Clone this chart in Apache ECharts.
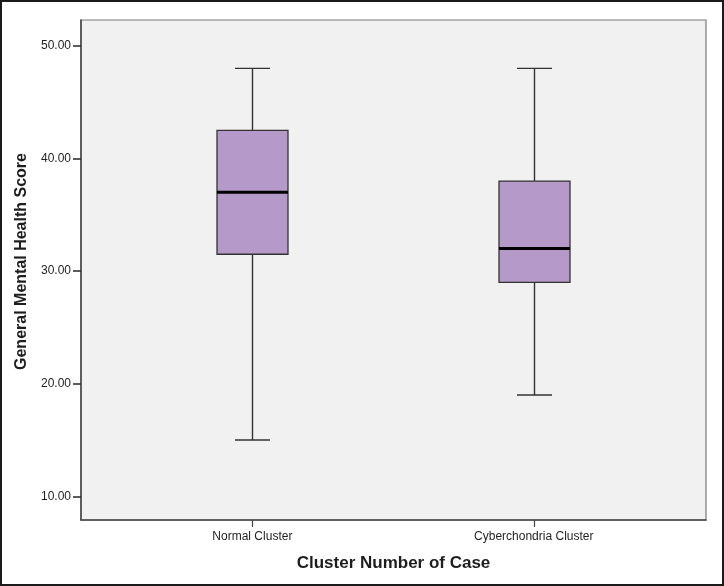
<!DOCTYPE html>
<html>
<head>
<meta charset="utf-8">
<script src="https://cdn.jsdelivr.net/npm/echarts@6/dist/echarts.min.js"></script>
<style>
html,body{margin:0;padding:0;background:#fff;}
#frame{width:724px;height:586px;box-sizing:border-box;border:2px solid #1a1a1a;position:relative;overflow:hidden;}
#chart{position:absolute;left:-2px;top:-2px;width:724px;height:586px;}
</style>
</head>
<body>
<div id="frame"><div id="chart"></div></div>
<script>
const categories = ['Normal Cluster', 'Cyberchondria Cluster'];
const whiskerLow = [15, 19];
const quartile1 = [31.5, 29];
const medians = [37, 32];
const quartile3 = [42.5, 38];
const whiskerHigh = [48, 48];
const yTicks = [10, 20, 30, 40, 50];

const seriesData = categories.map((c, i) => [i, whiskerLow[i], quartile1[i], medians[i], quartile3[i], whiskerHigh[i]]);

const chart = echarts.init(document.getElementById('chart'));
const txt = '#1e1e1e';
chart.setOption({
  animation: false,
  grid: {
    left: 81, top: 20, right: 18, bottom: 66,
    show: true, backgroundColor: '#f1f1f1', borderColor: '#7a7a7a', borderWidth: 1.2,
    containLabel: false
  },
  xAxis: {
    type: 'value',
    min: -0.609, max: 1.612,
    splitLine: { show: false },
    axisLine: { show: true, onZero: false, lineStyle: { color: '#444', width: 1.5 } },
    axisTick: { show: true, customValues: [0, 1], length: 7, lineStyle: { color: '#444', width: 1.2 } },
    axisLabel: {
      customValues: [0, 1], margin: 11, color: txt, fontSize: 12,
      fontFamily: 'Liberation Sans, Arial, sans-serif',
      formatter: v => categories[Math.round(v)] || ''
    },
    name: 'Cluster Number of Case', nameLocation: 'middle', nameGap: 35,
    nameTextStyle: { fontSize: 17, fontWeight: 'bold', color: txt, fontFamily: 'Liberation Sans, Arial, sans-serif' }
  },
  yAxis: {
    type: 'value',
    min: 7.9, max: 52.3,
    splitLine: { show: false },
    axisLine: { show: true, onZero: false, lineStyle: { color: '#444', width: 1.5 } },
    axisTick: { show: true, customValues: yTicks, length: 8, lineStyle: { color: '#333', width: 1.6 } },
    axisLabel: {
      customValues: yTicks, margin: 10, color: txt, fontSize: 12,
      fontFamily: 'Liberation Sans, Arial, sans-serif',
      formatter: v => v.toFixed(2)
    },
    name: 'General Mental Health Score', nameLocation: 'middle', nameGap: 49,
    nameTextStyle: { fontSize: 16, fontWeight: 'bold', color: txt, padding: [0, 0, 0, 17], fontFamily: 'Liberation Sans, Arial, sans-serif' }
  },
  series: [{
    type: 'custom',
    data: seriesData,
    encode: { x: 0, y: [1, 2, 3, 4, 5] },
    renderItem: function (params, api) {
      const x = api.value(0);
      const lo = api.coord([x, api.value(1)]);
      const q1 = api.coord([x, api.value(2)]);
      const md = api.coord([x, api.value(3)]);
      const q3 = api.coord([x, api.value(4)]);
      const hi = api.coord([x, api.value(5)]);
      const cx = Math.round(lo[0]) + 0.5;
      const bw = 71, cw = 35;
      const ls = { stroke: '#333', lineWidth: 1.4 };
      return {
        type: 'group',
        children: [
          { type: 'line', shape: { x1: cx, y1: hi[1], x2: cx, y2: q3[1] }, style: ls },
          { type: 'line', shape: { x1: cx, y1: q1[1], x2: cx, y2: lo[1] }, style: ls },
          { type: 'line', shape: { x1: cx - cw / 2, y1: hi[1], x2: cx + cw / 2, y2: hi[1] }, style: ls },
          { type: 'line', shape: { x1: cx - cw / 2, y1: lo[1], x2: cx + cw / 2, y2: lo[1] }, style: ls },
          { type: 'rect', shape: { x: cx - bw / 2, y: q3[1], width: bw, height: q1[1] - q3[1] },
            style: { fill: '#b59ac9', stroke: '#333', lineWidth: 1.3 } },
          { type: 'line', shape: { x1: cx - bw / 2, y1: md[1], x2: cx + bw / 2, y2: md[1] },
            style: { stroke: '#000', lineWidth: 3 } }
        ]
      };
    }
  }]
});
</script>
</body>
</html>
